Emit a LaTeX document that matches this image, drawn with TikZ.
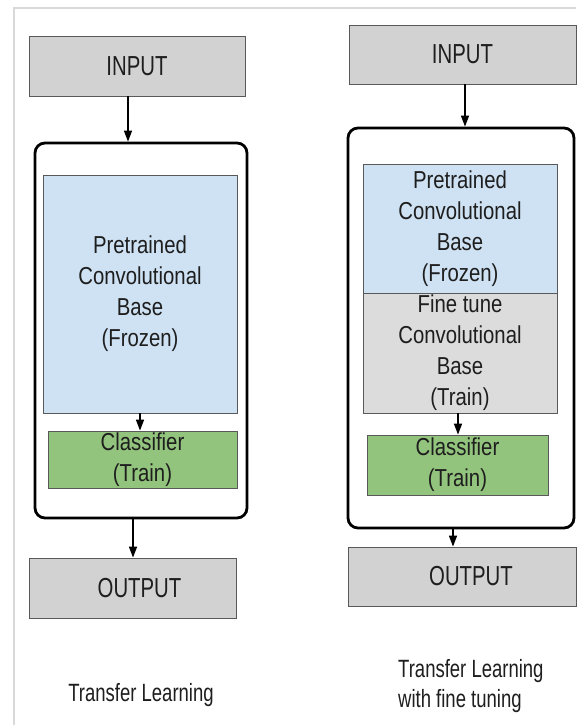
\documentclass[tikz,border=0pt]{standalone}
\usepackage{fontspec}
\setmainfont{Liberation Sans}[FakeStretch=0.83]
\newfontfamily\capfont{Liberation Sans}[FakeStretch=0.74]
\usetikzlibrary{arrows.meta}
\definecolor{iogray}{HTML}{D2D2D2}
\definecolor{finegray}{HTML}{DCDCDC}
\definecolor{frozenblue}{HTML}{CFE2F3}
\definecolor{traingreen}{HTML}{93C47D}
\definecolor{inktext}{HTML}{1E1E1E}
\begin{document}
\begin{tikzpicture}[x=1pt,y=-1pt,
  box/.style={draw=black!65, line width=0.8pt, inner sep=0pt, text=inktext, align=center,
              font=\fontsize{24.5}{31}\selectfont},
  iobox/.style={box, fill=iogray, font=\capfont\fontsize{27.5}{32}\selectfont},
  arr/.style={line width=1.5pt, -{Triangle[length=11pt,width=8pt]}},
  outer/.style={draw=black, line width=2.8pt, rounded corners=10pt, inner sep=0pt},
  captext/.style={font=\capfont\fontsize{25}{30}\selectfont, text=inktext, inner sep=0pt, align=left}]
\useasboundingbox (0,0) rectangle (576,725);
\fill[white] (0,0) rectangle (576,725);
\draw[black!15, line width=2pt] (14,725) -- (14,8) -- (576,8);

% left diagram
\node[iobox, minimum width=216pt, minimum height=60pt] (inL) at (137,66) {INPUT};
\node[outer, minimum width=212pt, minimum height=375pt] (outerL) at (141,330.5) {};
\node[box, fill=frozenblue, minimum width=194pt, minimum height=238pt] (baseL) at (140,294)
  {Pretrained\\Convolutional\\Base\\(Frozen)};
\node[box, fill=traingreen, minimum width=189pt, minimum height=57pt] (clsL) at (142.5,459.5)
  {Classifier\\(Train)};
\node[iobox, minimum width=207pt, minimum height=60pt] (outL) at (132.5,588) {\hspace*{14pt}OUTPUT};
\node[captext, anchor=base] (capL) at (141,701) {Transfer Learning};

\draw[arr] ([xshift=-9pt]inL.south) -- ([xshift=-13pt]outerL.north);
\draw[arr] (baseL.south) -- ([xshift=-2.5pt]clsL.north);
\draw[arr] ([xshift=-8pt]outerL.south) -- ([xshift=0.5pt]outL.north);

% right diagram
\node[iobox, minimum width=227pt, minimum height=59pt] (inR) at (462.5,54.5) {INPUT};
\node[outer, minimum width=226pt, minimum height=400pt] (outerR) at (461,328) {};
\node[box, fill=frozenblue, minimum width=194pt, minimum height=129pt] (baseR) at (460,228.5)
  {Pretrained\\Convolutional\\Base\\(Frozen)};
\node[box, fill=finegray, minimum width=194pt, minimum height=120pt] (fineR) at (460,353)
  {Fine tune\\Convolutional\\Base\\(Train)};
\node[box, fill=traingreen, minimum width=181pt, minimum height=60pt] (clsR) at (457.5,465)
  {Classifier\\(Train)};
\node[iobox, minimum width=228pt, minimum height=59pt] (outR) at (462,576.5) {\hspace*{18pt}OUTPUT};
\node[captext, anchor=base west] (capR) at (398,707) {Transfer Learning\\with fine tuning};

\draw[arr] ([xshift=2.5pt]inR.south) -- ([xshift=4pt]outerR.north);
\draw[arr] ([xshift=-2pt]fineR.south) -- ([xshift=0.5pt]clsR.north);
\draw[arr] ([xshift=-8pt]outerR.south) -- ([xshift=-9pt]outR.north);
\end{tikzpicture}
\end{document}
